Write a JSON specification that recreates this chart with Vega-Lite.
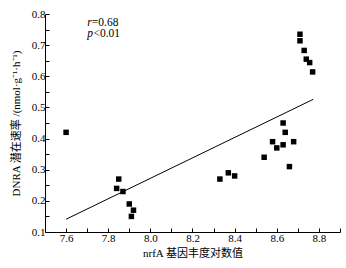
{
  "$schema": "https://vega.github.io/schema/vega-lite/v6.json",
  "width": 295,
  "height": 218,
  "autosize": "none",
  "padding": {"left": 45, "top": 14, "right": 6, "bottom": 36},
  "background": "white",
  "config": {
    "view": {"stroke": null},
    "font": "Liberation Serif",
    "axis": {
      "domainColor": "black",
      "tickColor": "black",
      "labelColor": "black",
      "titleColor": "black",
      "labelFont": "Liberation Serif",
      "titleFont": "Liberation Serif",
      "labelFontSize": 11,
      "titleFontSize": 11,
      "titleFontWeight": "normal",
      "grid": false,
      "tickSize": -4,
      "domainWidth": 1,
      "tickWidth": 1
    }
  },
  "datasets": {
    "pts": [
      {"x": 7.60, "y": 0.42},
      {"x": 7.85, "y": 0.27},
      {"x": 7.84, "y": 0.24},
      {"x": 7.87, "y": 0.23},
      {"x": 7.90, "y": 0.19},
      {"x": 7.92, "y": 0.17},
      {"x": 7.91, "y": 0.15},
      {"x": 8.33, "y": 0.27},
      {"x": 8.37, "y": 0.29},
      {"x": 8.40, "y": 0.28},
      {"x": 8.54, "y": 0.34},
      {"x": 8.58, "y": 0.39},
      {"x": 8.60, "y": 0.37},
      {"x": 8.63, "y": 0.45},
      {"x": 8.64, "y": 0.42},
      {"x": 8.63, "y": 0.38},
      {"x": 8.68, "y": 0.39},
      {"x": 8.66, "y": 0.31},
      {"x": 8.71, "y": 0.735},
      {"x": 8.71, "y": 0.714},
      {"x": 8.73, "y": 0.683},
      {"x": 8.74, "y": 0.655},
      {"x": 8.756, "y": 0.644},
      {"x": 8.77, "y": 0.614}
    ],
    "fit": [
      {"x": 7.60, "y": 0.141},
      {"x": 8.773, "y": 0.526}
    ],
    "annItalic": [
      {"x": 7.701, "y": 0.762, "t": "r"},
      {"x": 7.701, "y": 0.727, "t": "p"}
    ],
    "annPlain": [
      {"x": 7.722, "y": 0.762, "t": "=0.68"},
      {"x": 7.730, "y": 0.727, "t": "<0.01"}
    ]
  },
  "encoding": {
    "x": {
      "field": "x",
      "type": "quantitative",
      "scale": {"domain": [7.5, 8.9], "nice": false, "zero": false},
      "axis": {
        "title": "nrfA 基因丰度对数值",
        "values": [7.5, 7.6, 7.7, 7.8, 7.9, 8.0, 8.1, 8.2, 8.3, 8.4, 8.5, 8.6, 8.7, 8.8, 8.9],
        "labelExpr": "abs(datum.value*5 - round(datum.value*5)) < 0.01 ? format(datum.value, '.1f') : ''",
        "labelPadding": 4,
        "titlePadding": 4,
        "titleFont": "Liberation Serif, Noto Sans CJK SC"
      }
    },
    "y": {
      "field": "y",
      "type": "quantitative",
      "scale": {"domain": [0.1, 0.8], "nice": false, "zero": false},
      "axis": {
        "title": "DNRA 潜在速率 /(nmol·g⁻¹·h⁻¹)",
        "values": [0.1, 0.15, 0.2, 0.25, 0.3, 0.35, 0.4, 0.45, 0.5, 0.55, 0.6, 0.65, 0.7, 0.75, 0.8],
        "labelExpr": "abs(datum.value*10 - round(datum.value*10)) < 0.01 ? format(datum.value, '.1f') : ''",
        "labelPadding": 4,
        "titlePadding": 10,
        "titleFont": "Liberation Serif, Noto Sans CJK SC"
      }
    }
  },
  "layer": [
    {
      "data": {"name": "fit"},
      "mark": {"type": "line", "color": "black", "strokeWidth": 1}
    },
    {
      "data": {"name": "pts"},
      "mark": {"type": "point", "shape": "square", "filled": true, "color": "black", "size": 30, "opacity": 1}
    },
    {
      "data": {"name": "annItalic"},
      "mark": {"type": "text", "align": "left", "baseline": "alphabetic", "fontSize": 11.5, "color": "black", "font": "Liberation Serif", "fontStyle": "italic"},
      "encoding": {"text": {"field": "t"}}
    },
    {
      "data": {"name": "annPlain"},
      "mark": {"type": "text", "align": "left", "baseline": "alphabetic", "fontSize": 11.5, "color": "black", "font": "Liberation Serif"},
      "encoding": {"text": {"field": "t"}}
    }
  ]
}
